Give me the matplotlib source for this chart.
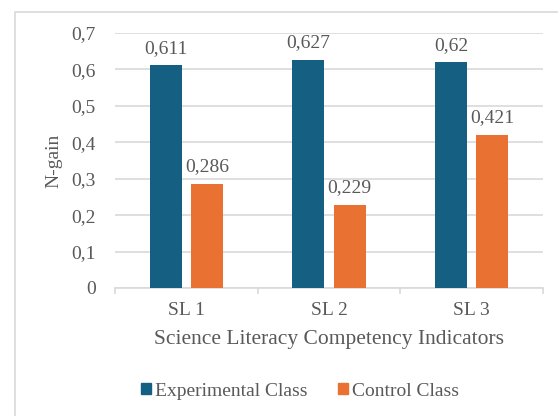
import matplotlib
matplotlib.use("Agg")
import matplotlib.pyplot as plt
from matplotlib.patches import Patch, Rectangle
import numpy as np

# N-gain per science literacy indicator
categories = ["SL 1", "SL 2", "SL 3"]
experimental = [0.611, 0.627, 0.62]
control = [0.286, 0.229, 0.421]
y_ticks = [0, 0.1, 0.2, 0.3, 0.4, 0.5, 0.6, 0.7]

BLUE = "#156082"
ORANGE = "#E97132"
TEXT = "#595959"
GRID = "#D9D9D9"
SERIF = ["Liberation Serif", "DejaVu Serif"]

plt.rcParams["font.family"] = SERIF

W, H = 558, 416
fig = plt.figure(figsize=(W / 100, H / 100), dpi=100)

# chart-area border (right/bottom edges fall outside the canvas)
fig.patches.append(Rectangle((15 / W, -0.1), 1.2, (H - 12) / H + 0.1,
                             transform=fig.transFigure, fill=False,
                             edgecolor="#D9D9D9", lw=1.2))

ax = fig.add_axes([115 / W, 128 / H, 428 / W, 255 / H])

x = np.arange(len(categories))
bw = 0.224
off = 0.144
b1 = ax.bar(x - off, experimental, bw, color=BLUE, zorder=3)
b2 = ax.bar(x + off, control, bw, color=ORANGE, zorder=3)

def fmt(v):
    return f"{v:g}".replace(".", ",")

for bars, vals in ((b1, experimental), (b2, control)):
    for rect, v in zip(bars, vals):
        ax.annotate(fmt(v), (rect.get_x() + rect.get_width() / 2, v),
                    xytext=(0, 6), textcoords="offset points",
                    ha="center", va="bottom", fontsize=14, color=TEXT)

ax.set_xlim(-0.5, 2.5)
ax.set_ylim(0, 0.7)
ax.set_yticks(y_ticks)
ax.set_yticklabels([fmt(t) for t in y_ticks])
ax.set_xticks(x)
ax.set_xticklabels(categories)
ax.set_xticks([-0.5, 0.5, 1.5, 2.5], minor=True)
ax.tick_params(axis="x", which="major", length=0, pad=10, labelsize=14, labelcolor=TEXT)
ax.tick_params(axis="x", which="minor", length=4, color=GRID, width=1.2)
ax.tick_params(axis="y", length=0, pad=14, labelsize=14, labelcolor=TEXT)

ax.grid(axis="y", color=GRID, lw=1.2, zorder=0)
for side in ("top", "right", "left"):
    ax.spines[side].set_visible(False)
ax.spines["bottom"].set_color(GRID)
ax.spines["bottom"].set_linewidth(1.2)

ax.set_xlabel("Science Literacy Competency Indicators", fontsize=15.5, color=TEXT, labelpad=8)
ax.set_ylabel("N-gain", fontsize=14, color=TEXT, labelpad=6)

handles = [Patch(color=BLUE), Patch(color=ORANGE)]
fig.legend(handles, ["Experimental Class", "Control Class"],
           loc="center", bbox_to_anchor=(300 / W, 25 / H), ncol=2,
           frameon=False, prop={"family": SERIF, "size": 14}, labelcolor=TEXT,
           handlelength=0.5, handleheight=0.5, handletextpad=0.2,
           columnspacing=1.6)

fig.savefig("out.png", dpi=100)
